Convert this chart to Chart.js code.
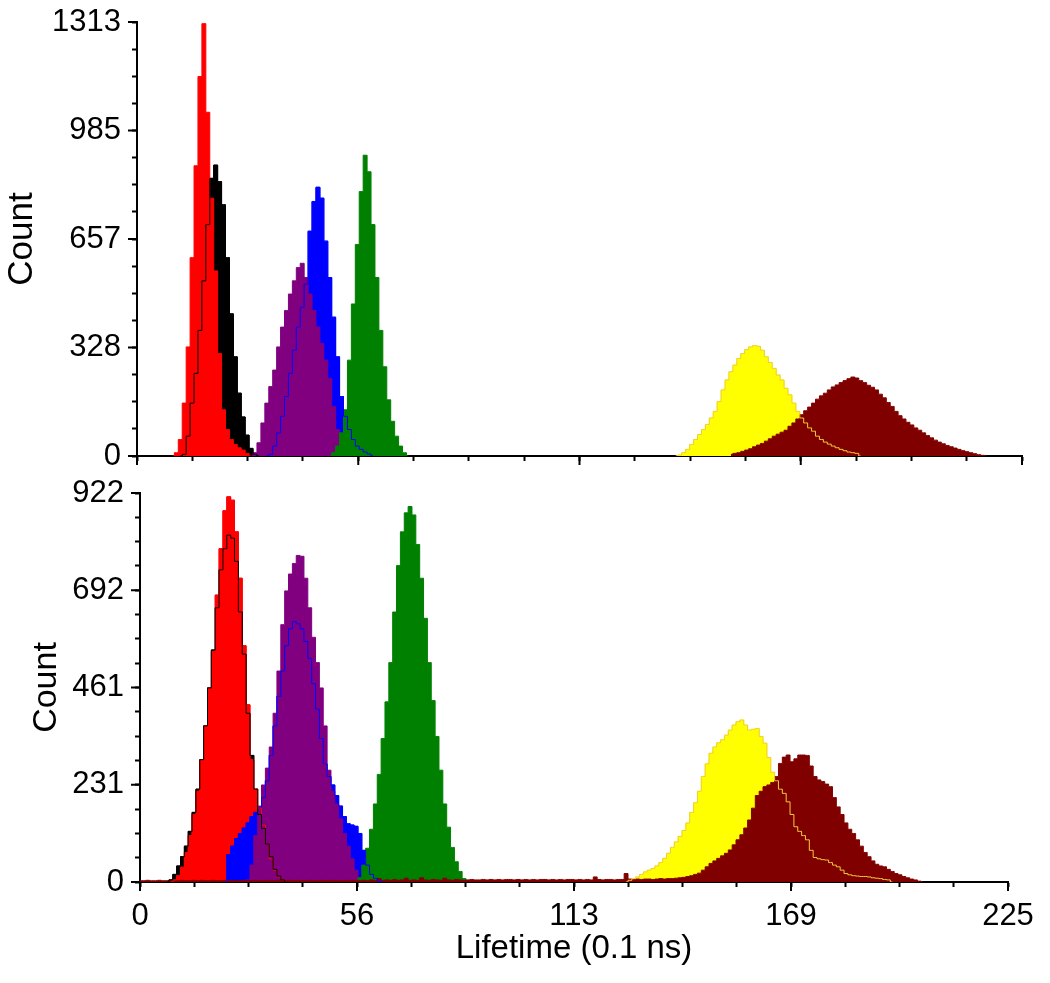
<!DOCTYPE html>
<html>
<head>
<meta charset="utf-8">
<script src="https://cdn.jsdelivr.net/npm/chart.js@4.4.1/dist/chart.umd.min.js"></script>
<style>
  html, body { margin: 0; padding: 0; background: #fff; }
  #wrap { position: relative; width: 1050px; height: 983px; }
  canvas { position: absolute; left: 0; }
  #topChart { top: 0; }
  #bottomChart { top: 470px; }
</style>
</head>
<body>
<div id="wrap">
  <canvas id="topChart" width="1050" height="470"></canvas>
  <canvas id="bottomChart" width="1050" height="513"></canvas>
</div>
<script>
// Lifetime histograms, one bin = 0.1 ns. Each series: first bin + counts per bin.
const FONT = "'Liberation Sans', Arial, sans-serif";

const xTickLabels = ['0', '56', '113', '169', '225'];
const topYTickLabels = ['0', '328', '657', '985', '1313'];
const botYTickLabels = ['0', '231', '461', '692', '922'];
const xMax = 225;
const topYMax = 1313;
const botYMax = 922;

// ---- top panel ----
const topBlackStart = 11;
const topBlack = [0, 5, 60, 160, 250, 380, 530, 700, 840, 880, 830, 760, 600, 430, 300, 190, 118, 63, 23, 5, 0];
const topRedStart = 9;
const topRed = [0, 10, 50, 160, 330, 600, 878, 1148, 1308, 1040, 780, 560, 310, 140, 80, 50, 35, 25, 18, 8, 0];
const topBlueStart = 33;
const topBlue = [0, 5, 30, 70, 120, 180, 250, 320, 390, 450, 520, 680, 770, 813, 780, 650, 540, 420, 300, 180, 120, 80, 50, 30, 20, 12, 6, 0];
const topPurpleStart = 29;
const topPurple = [0, 10, 40, 100, 160, 210, 260, 330, 390, 440, 490, 530, 570, 583, 540, 490, 440, 390, 340, 290, 235, 150, 80, 20, 0];
const topGreenStart = 49;
const topGreen = [0, 10, 30, 70, 140, 290, 460, 640, 800, 910, 860, 700, 540, 380, 270, 170, 105, 60, 30, 10, 0];
const topYellowStart = 137;
const topYellow = [0, 3, 10, 20, 35, 50, 65, 80, 95, 115, 135, 165, 200, 230, 255, 275, 295, 310, 322, 330,
  334, 332, 320, 300, 283, 265, 245, 230, 205, 185, 160, 135, 115, 100, 85, 75, 60, 50, 42, 36,
  30, 25, 20, 16, 12, 10, 8, 0];
const topMaroonStart = 151;
const topMaroon = [5, 8, 10, 14, 18, 22, 28, 33, 38, 45, 52, 60, 66, 72, 78, 90, 100, 112, 125, 137,
  148, 160, 172, 182, 190, 200, 209, 215, 222, 228, 234, 239, 236, 228, 222, 214, 208, 200, 187, 176,
  162, 150, 135, 122, 112, 102, 94, 85, 78, 70, 62, 55, 48, 42, 37, 32, 28, 24, 20, 16,
  13, 10, 7, 4, 2, 0];

// ---- bottom panel ----
const botBlackStart = 7;
const botBlack = [0, 5, 18, 38, 60, 85, 120, 165, 220, 290, 370, 460, 550, 650, 740, 790, 822, 815, 760, 640,
  540, 400, 300, 220, 160, 127, 90, 60, 30, 14, 5, 0];
const botRedStart = 8;
const botRed = [0, 5, 15, 35, 70, 110, 160, 215, 290, 370, 460, 546, 680, 790, 880, 913, 905, 830, 720, 560,
  420, 290, 220, 175, 135, 90, 55, 28, 12, 5, 0];
const botBlueStart = 22;
const botBlue = [0, 65, 85, 103, 115, 128, 140, 155, 165, 175, 200, 240, 300, 370, 440, 500, 560, 600, 617, 612,
  600, 570, 530, 470, 410, 340, 280, 250, 230, 205, 180, 155, 138, 135, 132, 115, 75, 40, 18, 9, 3, 0];
const botPurpleStart = 27;
const botPurple = [0, 5, 40, 110, 180, 230, 270, 320, 400, 500, 610, 690, 730, 755, 774, 772, 720, 650, 580, 520,
  460, 370, 265, 215, 185, 150, 115, 85, 55, 28, 10, 3, 0];
const botGreenStart = 56;
const botGreen = [0, 10, 40, 80, 125, 185, 255, 340, 427, 520, 640, 750, 830, 875, 890, 870, 800, 720, 625, 520,
  430, 345, 265, 185, 130, 82, 48, 25, 8, 0];
const botYellowStart = 126;
const botYellow = [0, 4, 8, 12, 18, 24, 28, 32, 38, 46, 56, 68, 82, 95, 108, 122, 140, 165, 188, 215,
  250, 280, 305, 320, 330, 337, 348, 360, 372, 380, 384, 372, 360, 362, 364, 345, 329, 295, 260, 240,
  220, 210, 190, 160, 131, 120, 110, 100, 75, 58, 55, 53, 52, 46, 40, 36, 28, 20, 17, 15,
  14, 13, 13, 12, 10, 9, 8, 6, 5, 0];
const botMaroonStart = 0;
const botMaroon = [3, 3, 4, 3, 3, 4, 3, 3, 4, 3, 3, 4, 3, 3, 4, 3, 4, 3, 3, 4,
  3, 3, 4, 3, 4, 3, 3, 4, 3, 3, 4, 3, 3, 4, 3, 3, 4, 3, 3, 4,
  3, 4, 3, 3, 4, 3, 3, 4, 3, 3, 4, 3, 3, 4, 3, 4, 3, 3, 4, 3,
  5, 4, 8, 4, 5, 4, 6, 4, 5, 9, 4, 5, 4, 10, 5, 4, 6, 5, 4, 9,
  5, 4, 6, 5, 4, 5, 6, 5, 5, 6, 5, 6, 5, 6, 5, 6, 6, 5, 6, 5,
  6, 5, 6, 5, 6, 6, 5, 6, 5, 6, 5, 6, 6, 5, 6, 5, 6, 5, 12, 6,
  5, 6, 6, 5, 6, 6, 20, 7, 6, 7, 6, 7, 7, 6, 7, 8, 7, 8, 8, 9,
  10, 11, 13, 15, 18, 21, 28, 36, 44, 50, 56, 62, 68, 76, 88, 100, 112, 128, 147, 175,
  205, 215, 226, 230, 236, 250, 281, 296, 301, 285, 292, 301, 301, 300, 275, 250, 242, 238, 232, 226,
  200, 178, 160, 140, 125, 115, 100, 85, 70, 60, 50, 42, 38, 36, 30, 25, 20, 17, 13, 10,
  7, 5, 2, 0];

const C = {
  black: '#000000', red: '#ff0000', blue: '#0000ff', purple: '#800080',
  green: '#008000', yellow: '#ffff00', maroon: '#800000', yellowLine: '#efcd3c'
};

function toPoints(start, counts) {
  return counts.map((c, i) => ({ x: start + i, y: c }));
}

function tickValues(max) {
  const out = [];
  for (let i = 0; i <= 16; i++) out.push(max * i / 16);
  return out;
}

// series listed bottom -> top; outlines of some are redrawn above all fills
function buildDatasets(series) {
  const fills = series.map((s, i) => ({
    data: s.pts, fill: 'origin', backgroundColor: s.color, borderColor: s.color,
    borderWidth: 1, pointRadius: 0, stepped: 'middle', order: 100 - i
  }));
  const lines = series.filter(s => s.line).map(s => ({
    data: s.pts, fill: false, borderColor: s.line, borderWidth: 1,
    pointRadius: 0, stepped: 'middle', order: 0
  }));
  return fills.concat(lines);
}

// longer marks on the labelled ticks
const majorTicks = {
  id: 'majorTicks',
  afterDraw(chart) {
    const { ctx, scales } = chart;
    ctx.save();
    ctx.strokeStyle = '#000';
    ctx.lineWidth = 2;
    scales.x.ticks.forEach((t, i) => {
      if (i % 4) return;
      const px = scales.x.getPixelForValue(t.value);
      ctx.beginPath(); ctx.moveTo(px, scales.x.top); ctx.lineTo(px, scales.x.top + 9); ctx.stroke();
    });
    scales.y.ticks.forEach((t, i) => {
      if (i % 4) return;
      const py = scales.y.getPixelForValue(t.value);
      ctx.beginPath(); ctx.moveTo(scales.y.right, py); ctx.lineTo(scales.y.right - 9, py); ctx.stroke();
    });
    ctx.restore();
  }
};

function scalesFor(o) {
  const grid = { drawOnChartArea: false, drawTicks: true, tickLength: 5, tickWidth: 2, tickColor: '#000' };
  const border = { display: true, color: '#000', width: 2 };
  return {
    x: {
      type: 'linear', min: 0, max: xMax,
      afterBuildTicks: s => { s.ticks = tickValues(xMax).map(v => ({ value: v })); },
      afterFit: s => { s.height = o.xHeight; s.paddingLeft = 0; s.paddingRight = 0; },
      ticks: {
        display: o.xLabels, autoSkip: false, maxRotation: 0, minRotation: 0, padding: 11, color: '#000',
        font: { family: FONT, size: 31 },
        callback: (v, i) => (i % 4 === 0 ? xTickLabels[i / 4] : '')
      },
      grid: grid, border: border,
      title: {
        display: o.xLabels, text: 'Lifetime (0.1 ns)', color: '#000',
        font: { family: FONT, size: 33 }, padding: { top: 0, bottom: 14 }
      }
    },
    y: {
      type: 'linear', min: 0, max: o.yMax,
      afterBuildTicks: s => { s.ticks = tickValues(o.yMax).map(v => ({ value: v })); },
      afterFit: s => { s.width = o.yWidth; s.paddingTop = 0; s.paddingBottom = 0; },
      ticks: {
        autoSkip: false, padding: 11, color: '#000', font: { family: FONT, size: 31 },
        callback: (v, i) => (i % 4 === 0 ? o.yLabels[i / 4] : '')
      },
      grid: grid, border: border,
      title: {
        display: true, text: 'Count', color: '#000',
        font: { family: FONT, size: o.titleSize }, padding: { top: o.titlePad, bottom: 0 }
      }
    }
  };
}

function makeChart(id, series, o) {
  return new Chart(document.getElementById(id), {
    type: 'line',
    data: { datasets: buildDatasets(series) },
    options: {
      responsive: false, animation: false, events: [],
      layout: { padding: o.padding },
      plugins: { legend: { display: false }, tooltip: { enabled: false } },
      scales: scalesFor(o)
    },
    plugins: [majorTicks]
  });
}

makeChart('topChart', [
  { pts: toPoints(topBlackStart, topBlack), color: C.black, line: C.black },
  { pts: toPoints(topRedStart, topRed), color: C.red },
  { pts: toPoints(topBlueStart, topBlue), color: C.blue, line: C.blue },
  { pts: toPoints(topPurpleStart, topPurple), color: C.purple },
  { pts: toPoints(topGreenStart, topGreen), color: C.green },
  { pts: toPoints(topYellowStart, topYellow), color: C.yellow, line: C.yellowLine },
  { pts: toPoints(topMaroonStart, topMaroon), color: C.maroon }
], {
  yMax: topYMax, yLabels: topYTickLabels, xLabels: false,
  yWidth: 137, xHeight: 14, titleSize: 35, titlePad: 1,
  padding: { top: 22, right: 28, left: 0, bottom: 0 }
});

makeChart('bottomChart', [
  { pts: toPoints(botBlackStart, botBlack), color: C.black, line: C.black },
  { pts: toPoints(botRedStart, botRed), color: C.red, line: C.red },
  { pts: toPoints(botBlueStart, botBlue), color: C.blue, line: C.blue },
  { pts: toPoints(botPurpleStart, botPurple), color: C.purple },
  { pts: toPoints(botGreenStart, botGreen), color: C.green },
  { pts: toPoints(botYellowStart, botYellow), color: C.yellow, line: C.yellowLine },
  { pts: toPoints(botMaroonStart, botMaroon), color: C.maroon }
], {
  yMax: botYMax, yLabels: botYTickLabels, xLabels: true,
  yWidth: 140, xHeight: 101, titleSize: 34, titlePad: 26,
  padding: { top: 23, right: 42, left: 0, bottom: 0 }
});
</script>
</body>
</html>
